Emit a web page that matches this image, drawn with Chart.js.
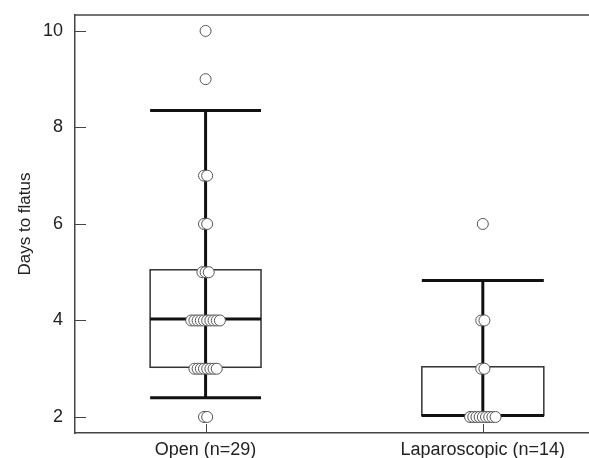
<!DOCTYPE html>
<html>
<head>
    <title>Days to flatus</title>
    <script src="https://cdn.jsdelivr.net/npm/chart.js@4.4.1/dist/chart.umd.min.js"></script>
    <style>
        body {
            margin: 0;
            background-color: white;
        }
        .chart-container {
            width: 589px;
            height: 458px;
        }
    </style>
</head>
<body>
    <div class="chart-container">
        <canvas id="flatusChart"></canvas>
    </div>

    <script>
        // groups along the x axis
        const categories = ['Open (n=29)', 'Laparoscopic (n=14)'];

        // box summaries, one entry per group
        const whiskerLow = [2.4, 2.03];
        const q1 = [3.03, 2.03];
        const median = [4.03, 2.03];
        const q3 = [5.05, 3.04];
        const whiskerHigh = [8.35, 4.83];

        // individual patients
        const openDays = [10, 9, 7, 7, 6, 6, 5, 5, 5,
            4, 4, 4, 4, 4, 4, 4, 4, 4, 4,
            3, 3, 3, 3, 3, 3, 3, 3, 2, 2];
        const lapDays = [6, 4, 4, 3, 3, 2, 2, 2, 2, 2, 2, 2, 2, 2];

        const yTicks = [2, 4, 6, 8, 10];

        const boxHalfWidth = [0.2, 0.22];
        const dotStep = 0.0115;
        const font = { family: "'Liberation Sans', Arial, sans-serif", size: 18 };

        // spread equal values sideways so the circles sit next to each other
        function swarm(values, pos) {
            const counts = {};
            values.forEach(v => counts[v] = (counts[v] || 0) + 1);
            const seen = {};
            const pts = [];
            values.forEach(v => {
                const i = seen[v] || 0;
                seen[v] = i + 1;
                pts.push({ x: pos + (i - (counts[v] - 1) / 2) * dotStep, y: v });
            });
            return pts.sort((a, b) => a.y - b.y || a.x - b.x);
        }

        const boxPlugin = {
            id: 'boxes',
            beforeDatasetsDraw(chart) {
                const ctx = chart.ctx;
                const xs = chart.scales.x, ys = chart.scales.y;
                ctx.save();
                categories.forEach((c, i) => {
                    const cx = xs.getPixelForValue(i + 1);
                    const l = xs.getPixelForValue(i + 1 - boxHalfWidth[i]);
                    const r = xs.getPixelForValue(i + 1 + boxHalfWidth[i]);
                    const line = (x1, y1, x2, y2, w, col) => {
                        ctx.beginPath();
                        ctx.lineWidth = w;
                        ctx.strokeStyle = col;
                        ctx.moveTo(x1, y1);
                        ctx.lineTo(x2, y2);
                        ctx.stroke();
                    };
                    // box
                    ctx.lineWidth = 1.5;
                    ctx.strokeStyle = '#333';
                    ctx.strokeRect(l, ys.getPixelForValue(q3[i]), r - l,
                        ys.getPixelForValue(q1[i]) - ys.getPixelForValue(q3[i]));
                    // whisker and caps
                    line(cx, ys.getPixelForValue(whiskerLow[i]), cx, ys.getPixelForValue(whiskerHigh[i]), 3, '#111');
                    line(l, ys.getPixelForValue(whiskerHigh[i]), r, ys.getPixelForValue(whiskerHigh[i]), 3, '#111');
                    line(l, ys.getPixelForValue(whiskerLow[i]), r, ys.getPixelForValue(whiskerLow[i]), 3, '#111');
                    line(l, ys.getPixelForValue(median[i]), r, ys.getPixelForValue(median[i]), 3, '#111');
                });
                ctx.restore();
            },
            afterDraw(chart) {
                const ctx = chart.ctx;
                const a = chart.chartArea;
                const xs = chart.scales.x, ys = chart.scales.y;
                ctx.save();
                ctx.strokeStyle = '#444';
                ctx.lineWidth = 1.5;
                // top frame line
                ctx.beginPath();
                ctx.moveTo(a.left, a.top);
                ctx.lineTo(a.right, a.top);
                ctx.stroke();
                // inward tick marks
                ctx.lineWidth = 1;
                yTicks.forEach(v => {
                    const y = Math.round(ys.getPixelForValue(v)) + 0.5;
                    ctx.beginPath();
                    ctx.moveTo(a.left, y);
                    ctx.lineTo(a.left + 11, y);
                    ctx.stroke();
                });
                categories.forEach((c, i) => {
                    const x = Math.round(xs.getPixelForValue(i + 1)) + 0.5;
                    ctx.beginPath();
                    ctx.moveTo(x, a.bottom);
                    ctx.lineTo(x, a.bottom - 9);
                    ctx.stroke();
                });
                ctx.restore();
            }
        };

        new Chart(document.getElementById('flatusChart'), {
            type: 'scatter',
            data: {
                datasets: [{
                    data: swarm(openDays, 1).concat(swarm(lapDays, 2)),
                    pointRadius: 5.5,
                    pointBorderWidth: 1,
                    pointBorderColor: '#555',
                    pointBackgroundColor: '#fff'
                }]
            },
            options: {
                responsive: true,
                maintainAspectRatio: false,
                animation: false,
                layout: { autoPadding: false, padding: { top: 15, right: 0, left: 0, bottom: 0 } },
                plugins: {
                    legend: { display: false },
                    tooltip: { enabled: false }
                },
                scales: {
                    x: {
                        type: 'linear',
                        min: 0.529,
                        max: 2.383,
                        afterBuildTicks: s => { s.ticks = categories.map((c, i) => ({ value: i + 1 })); },
                        afterFit: s => {
                            s.height = 25;
                            s.paddingLeft = 0;
                            s.paddingRight = 0;
                        },
                        grid: { display: false, drawTicks: false },
                        border: { display: true, color: '#444', width: 1.5 },
                        ticks: {
                            padding: 6,
                            color: '#222',
                            font: font,
                            maxRotation: 0,
                            autoSkip: false,
                            callback: v => categories[v - 1]
                        }
                    },
                    y: {
                        min: 1.668,
                        max: 10.33,
                        afterBuildTicks: s => { s.ticks = yTicks.map(v => ({ value: v })); },
                        afterFit: s => {
                            s.width = 75;
                            s.paddingTop = 0;
                            s.paddingBottom = 0;
                        },
                        grid: { display: false, drawTicks: false },
                        border: { display: true, color: '#444', width: 1.5 },
                        ticks: { padding: 12, color: '#222', font: font },
                        title: {
                            display: true,
                            text: 'Days to flatus',
                            color: '#222',
                            font: { family: font.family, size: 17 },
                            padding: { top: 15, bottom: 0 }
                        }
                    }
                }
            },
            plugins: [boxPlugin]
        });
    </script>
</body>
</html>
